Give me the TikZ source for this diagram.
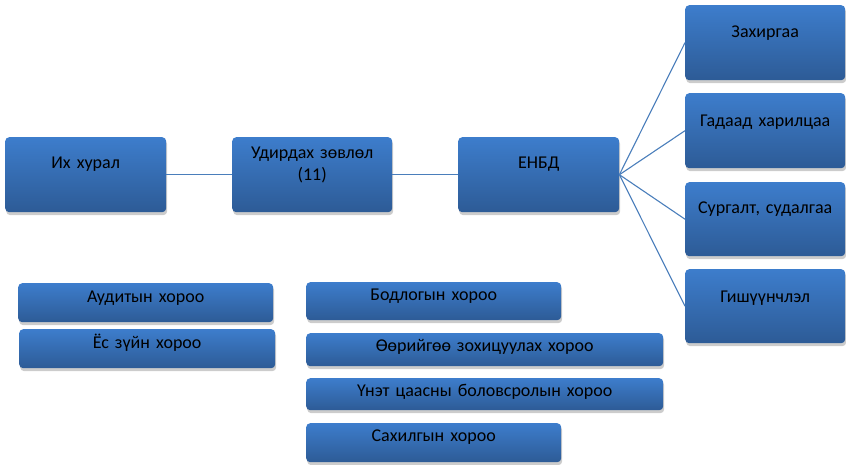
\documentclass[tikz,border=0pt]{standalone}
\usepackage{fontspec}
\setmainfont{Carlito}
\usetikzlibrary{shadows}
\definecolor{boxtop}{HTML}{3D7DCC}
\definecolor{boxbot}{HTML}{2D5B96}
\definecolor{linkblue}{HTML}{4A7EBB}
\tikzset{
  unit/.style={rounded corners=4pt, top color=boxtop, bottom color=boxbot,
    inner xsep=0pt, inner ysep=0pt, anchor=north west, align=center,
    font=\fontsize{18}{22}\selectfont,
    drop shadow={shadow xshift=1pt, shadow yshift=-3pt, fill=black!22, opacity=0.9}},
  bigunit/.style={unit, text width=161pt, text height=31pt, text depth=44pt},
  sideunit/.style={unit, text width=160pt, text height=32pt, text depth=43pt},
  committee/.style={unit, text width=#1},
  link/.style={draw=linkblue, line width=1.1pt}
}
\begin{document}
\begin{tikzpicture}[x=1pt,y=-1pt]
\useasboundingbox (0,0) rectangle (846,465);
\node[bigunit] (ikh) at (5,137) {Их хурал};
\node[bigunit, text width=160pt, text height=21pt, text depth=54pt] (udz) at (232,137) {Удирдах зөвлөл\\(11)};
\node[bigunit] (enbd) at (458,137) {ЕНБД};
\node[sideunit] (zah) at (685,5) {Захиргаа};
\node[sideunit, text height=33pt, text depth=42pt] (gad) at (685,93) {Гадаад харилцаа};
\node[sideunit, text height=31pt, text depth=43pt] (sur) at (685,182) {Сургалт, судалгаа};
\node[sideunit, text height=33pt, text depth=41pt] (gish) at (685,269) {Гишүүнчлэл};
\node[committee=255pt, text height=19pt, text depth=20pt] (audit) at (18,283) {Аудитын хороо};
\node[committee=256pt, text height=19pt, text depth=20pt] (yos) at (19,329) {Ёс зүйн хороо};
\node[committee=255pt, text height=18pt, text depth=20pt] (bodl) at (306,282) {Бодлогын хороо};
\node[committee=357pt, text height=18pt, text depth=15pt] (oor) at (306,333) {Өөрийгөө зохицуулах хороо};
\node[committee=357pt, text height=18pt, text depth=14pt] (unet) at (306,378) {Үнэт цаасны боловсролын хороо};
\node[committee=255pt, text height=18pt, text depth=21pt] (sakh) at (306,423) {Сахилгын хороо};
\draw[link] (ikh.east) -- (udz.west);
\draw[link] (udz.east) -- (enbd.west);
\draw[link] (enbd.east) -- (zah.west);
\draw[link] (enbd.east) -- (gad.west);
\draw[link] (enbd.east) -- (sur.west);
\draw[link] (enbd.east) -- (gish.west);
\end{tikzpicture}
\end{document}
